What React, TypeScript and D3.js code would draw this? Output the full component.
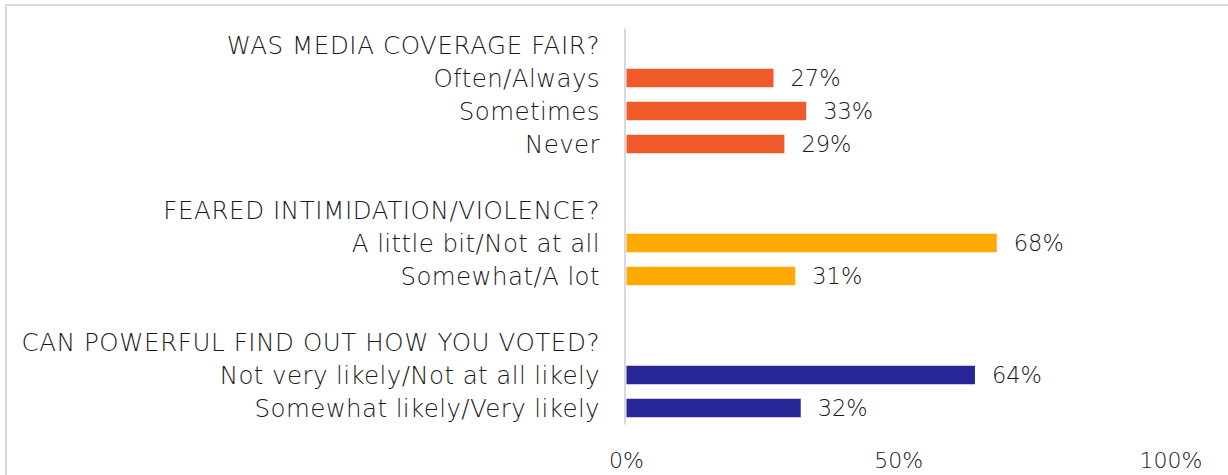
import React from "react";
import * as d3 from "d3";

const groupTitles = [
  "WAS MEDIA COVERAGE FAIR?",
  "FEARED INTIMIDATION/VIOLENCE?",
  "CAN POWERFUL FIND OUT HOW YOU VOTED?",
];
const mediaLabels = ["Often/Always", "Sometimes", "Never"];
const mediaValues = [27, 33, 29];
const fearLabels = ["A little bit/Not at all", "Somewhat/A lot"];
const fearValues = [68, 31];
const powerLabels = ["Not very likely/Not at all likely", "Somewhat likely/Very likely"];
const powerValues = [64, 32];
const groupColors = ["#F15A29", "#FFAA00", "#262696"];
const tickValues = [0, 50, 100];

type Row = { key: string; label: string; kind: "header" | "bar" | "spacer"; value?: number; color?: string };

const groupLabels = [mediaLabels, fearLabels, powerLabels];
const groupValues = [mediaValues, fearValues, powerValues];

const rows: Row[] = [];
groupTitles.forEach((t, gi) => {
  rows.push({ key: `h${gi}`, label: t, kind: "header" });
  groupLabels[gi].forEach((l, i) =>
    rows.push({ key: `b${gi}-${i}`, label: l, kind: "bar", value: groupValues[gi][i], color: groupColors[gi] })
  );
  if (gi < groupTitles.length - 1) rows.push({ key: `s${gi}`, label: "", kind: "spacer" });
});

const W = 1228;
const H = 475;
const FONT = "'DejaVu Sans', sans-serif";

export default function App() {
  const x = d3.scaleLinear().domain([0, 100]).range([626.5, 1171]);
  const y = d3
    .scaleBand<string>()
    .domain(rows.map((r) => r.key))
    .range([28.5, 424.5])
    .paddingInner(0.44)
    .paddingOuter(0.22);
  const labelX = 600;
  return (
    <svg
      width={W}
      height={H}
      style={{ position: "absolute", left: 0, top: 0, background: "#fff" }}
      fontFamily={FONT}
      fontWeight={300}
    >
      <rect x={6} y={5} width={W} height={H} fill="#fff" stroke="#d9d9d9" strokeWidth={2} />
      <line x1={625} x2={625} y1={28.5} y2={424.5} stroke="#d9d9d9" strokeWidth={2} />
      {rows.map((r) => {
        const yc = (y(r.key) as number) + y.bandwidth() / 2;
        if (r.kind === "spacer") return null;
        return (
          <g key={r.key}>
            <text
              x={labelX}
              y={yc}
              dy="0.36em"
              textAnchor="end"
              fontSize={24.5}
              letterSpacing={r.kind === "header" ? 0.6 : 0.4}
              fill="#1a1a1a"
            >
              {r.label}
            </text>
            {r.kind === "bar" && (
              <>
                <rect
                  x={x(0)}
                  y={y(r.key)}
                  width={x(r.value as number) - x(0)}
                  height={y.bandwidth()}
                  fill={r.color}
                />
                <text x={x(r.value as number) + 17} y={yc} dy="0.36em" fontSize={22.5} fill="#1a1a1a">
                  {`${r.value}%`}
                </text>
              </>
            )}
          </g>
        );
      })}
      {tickValues.map((t) => (
        <text key={t} x={x(t)} y={460} dy="0.36em" textAnchor="middle" fontSize={22} fill="#1a1a1a">
          {`${t}%`}
        </text>
      ))}
    </svg>
  );
}
